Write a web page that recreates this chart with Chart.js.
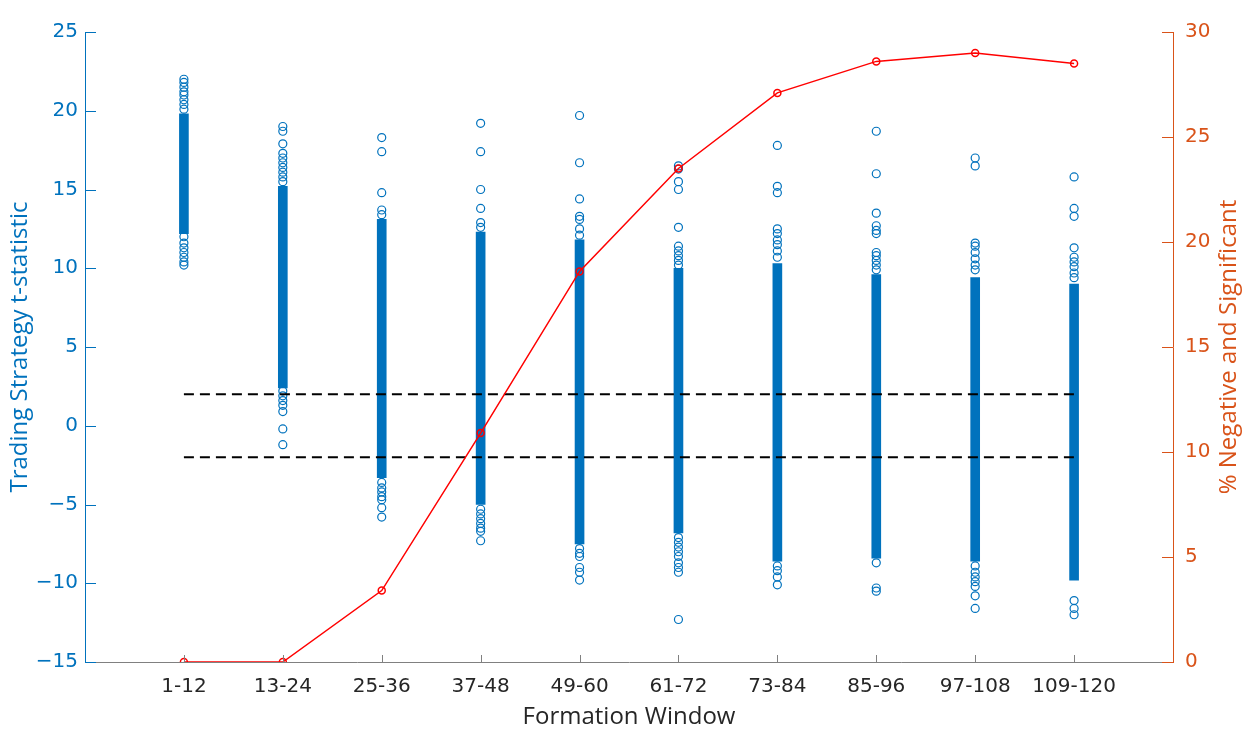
<!DOCTYPE html>
<html>
<head>
<meta charset="utf-8">
<script src="https://cdn.jsdelivr.net/npm/chart.js@4/dist/chart.umd.min.js"></script>
<style>
  html, body { margin: 0; padding: 0; background: #fff; }
  #wrap { width: 1251px; height: 732px; }
</style>
</head>
<body>
<div id="wrap"><canvas id="chart"></canvas></div>
<script>
// Formation windows (x categories, placed at 1..10)
const categories = ["1-12", "13-24", "25-36", "37-48", "49-60", "61-72", "73-84", "85-96", "97-108", "109-120"];

// Dense part of each t-statistic column (circles overlap into a solid band)
const denseLow = [12.2, 2.4, -3.3, -5.0, -7.5, -6.8, -8.6, -8.4, -8.6, -9.8];
const denseHigh = [19.8, 15.2, 13.1, 12.3, 11.8, 10.0, 10.3, 9.6, 9.4, 9.0];

// Individually visible t-statistics above / below the dense band
const sparsePoints = [
  [22.0, 21.8, 21.5, 21.2, 21.0, 20.7, 20.4, 20.1, 12.0, 11.6, 11.3, 11.0, 10.7, 10.4, 10.2],
  [19.0, 18.7, 17.9, 17.3, 17.0, 16.7, 16.4, 16.1, 15.8, 15.5, 2.2, 1.9, 1.6, 1.3, 0.9, -0.2, -1.2],
  [18.3, 17.4, 14.8, 13.7, 13.4, -3.6, -3.95, -4.2, -4.5, -4.7, -5.2, -5.8],
  [19.2, 17.4, 15.0, 13.8, 12.9, 12.6, -5.3, -5.6, -5.9, -6.2, -6.5, -6.7, -7.3],
  [19.7, 16.7, 14.4, 13.3, 13.1, 12.5, 12.1, -7.8, -8.1, -8.3, -9.0, -9.3, -9.8],
  [16.5, 16.3, 15.5, 15.0, 12.6, 11.4, 11.1, 10.8, 10.5, 10.2, -7.1, -7.4, -7.7, -8.0, -8.3, -8.7, -9.0, -9.3, -12.3],
  [17.8, 15.2, 14.8, 12.5, 12.2, 11.8, 11.5, 11.1, 10.7, -8.9, -9.2, -9.6, -10.1],
  [18.7, 16.0, 13.5, 12.7, 12.4, 12.2, 11.0, 10.8, 10.5, 10.2, 9.9, -8.7, -10.3, -10.5],
  [17.0, 16.5, 11.6, 11.4, 11.0, 10.6, 10.2, 9.9, -8.9, -9.3, -9.6, -9.9, -10.2, -10.8, -11.6],
  [15.8, 13.8, 13.3, 11.3, 10.7, 10.4, 10.1, 9.7, 9.4, -11.1, -11.6, -12.0]
];

// % negative and significant (right axis)
const pctNegSig = [0, 0, 3.4, 10.9, 18.6, 23.5, 27.1, 28.6, 29.0, 28.5];

// significance thresholds
const thresholds = [2, -2];

const blue = "#0072BD";
const orange = "#D95319";
const dark = "#262626";
const axisGray = "#808080";
const tickFont = "'DejaVu Sans', sans-serif";
const titleFont = "'Open Sans', sans-serif";

const minusFmt = (v) => String(v).replace("-", "\u2212");

// build datasets from the arrays
const bandData = categories.map((c, i) => ({ x: i + 1, y: [denseLow[i], denseHigh[i]] }));
const scatterData = [];
sparsePoints.forEach((list, i) => {
  list.forEach((v) => scatterData.push({ x: i + 1, y: v }));
});
const pctData = pctNegSig.map((v, i) => ({ x: i + 1, y: v }));

const thresholdSets = thresholds.map((t) => ({
  type: "line",
  data: [{ x: 1, y: t }, { x: categories.length, y: t }],
  borderColor: "#000",
  borderWidth: 2,
  borderDash: [10, 6],
  pointRadius: 0,
  yAxisID: "y",
  order: 1,
}));

// MATLAB style ticks pointing into the plot box, plus the right axis title
// (reads bottom to top like the left one)
const innerTicks = {
  id: "innerTicks",
  afterDatasetsDraw(chart) {
    const { ctx, chartArea, scales } = chart;
    ctx.save();
    ctx.lineWidth = 1;
    ctx.strokeStyle = blue;
    scales.y.ticks.forEach((t) => {
      const py = Math.round(scales.y.getPixelForValue(t.value)) + 0.5;
      ctx.beginPath();
      ctx.moveTo(chartArea.left, py);
      ctx.lineTo(chartArea.left + 11, py);
      ctx.stroke();
    });
    ctx.strokeStyle = orange;
    scales.y2.ticks.forEach((t) => {
      const py = Math.round(scales.y2.getPixelForValue(t.value)) + 0.5;
      ctx.beginPath();
      ctx.moveTo(chartArea.right, py);
      ctx.lineTo(chartArea.right - 11, py);
      ctx.stroke();
    });
    ctx.strokeStyle = axisGray;
    scales.x.ticks.forEach((t) => {
      const px = Math.round(scales.x.getPixelForValue(t.value)) + 0.5;
      ctx.beginPath();
      ctx.moveTo(px, chartArea.bottom);
      ctx.lineTo(px, chartArea.bottom - 7);
      ctx.stroke();
    });

    ctx.translate(1229, (chartArea.top + chartArea.bottom) / 2);
    ctx.rotate(-Math.PI / 2);
    ctx.fillStyle = orange;
    ctx.font = "24px " + titleFont;
    ctx.textAlign = "center";
    ctx.textBaseline = "middle";
    ctx.fillText("% Negative and Significant", 0, 0);
    ctx.restore();
  },
};

const ctx = document.getElementById("chart").getContext("2d");
const chart = new Chart(ctx, {
  type: "scatter",
  data: {
    datasets: [
      {
        type: "line",
        label: "% Negative and Significant",
        data: pctData,
        yAxisID: "y2",
        borderColor: "#FF0000",
        borderWidth: 1.5,
        pointRadius: 3.5,
        pointBorderWidth: 1.5,
        pointBackgroundColor: "rgba(0,0,0,0)",
        pointBorderColor: "#FF0000",
        tension: 0,
        order: 0,
      },
      ...thresholdSets,
      {
        type: "scatter",
        label: "t-statistic",
        data: scatterData,
        yAxisID: "y",
        pointRadius: 4,
        pointBorderWidth: 1.2,
        pointBorderColor: blue,
        pointBackgroundColor: "rgba(0,0,0,0)",
        order: 2,
      },
      {
        type: "bar",
        label: "dense",
        data: bandData,
        yAxisID: "y",
        backgroundColor: blue,
        borderWidth: 0,
        barThickness: 9,
        grouped: false,
        order: 3,
      },
    ],
  },
  options: {
    responsive: true,
    maintainAspectRatio: false,
    animation: false,
    layout: { padding: { top: 32, left: 0, right: 0, bottom: 0 } },
    plugins: {
      legend: { display: false },
      tooltip: { enabled: false },
    },
    scales: {
      x: {
        type: "linear",
        min: 0,
        max: 11,
        offset: false,
        afterBuildTicks: (scale) => {
          scale.ticks = categories.map((c, i) => ({ value: i + 1 }));
        },
        afterFit: (scale) => { scale.height = 70; },
        grid: { display: false, drawTicks: false },
        border: { display: true, color: axisGray, width: 1 },
        ticks: {
          color: dark,
          font: { family: tickFont, size: 20 },
          padding: 13,
          maxRotation: 0,
          autoSkip: false,
          callback: (v) => categories[v - 1],
        },
        title: {
          display: true,
          text: "Formation Window",
          color: dark,
          font: { family: titleFont, size: 24 },
          padding: { top: 0, bottom: 0 },
        },
      },
      y: {
        position: "left",
        min: -15,
        max: 25,
        afterFit: (scale) => { scale.width = 85; },
        grid: { display: false, drawTicks: false },
        border: { display: true, color: blue, width: 1 },
        ticks: {
          stepSize: 5,
          color: blue,
          padding: 7,
          font: { family: tickFont, size: 20 },
          callback: (v) => minusFmt(v),
        },
        title: {
          display: true,
          text: "Trading Strategy t-statistic",
          color: blue,
          font: { family: titleFont, size: 24 },
          padding: { top: 6, bottom: 4 },
        },
      },
      y2: {
        position: "right",
        min: 0,
        max: 30,
        afterFit: (scale) => { scale.width = 78; },
        grid: { display: false, drawTicks: false },
        border: { display: true, color: orange, width: 1 },
        ticks: {
          stepSize: 5,
          color: orange,
          padding: 12,
          font: { family: tickFont, size: 20 },
        },
      },
    },
  },
  plugins: [innerTicks],
});
</script>
</body>
</html>
